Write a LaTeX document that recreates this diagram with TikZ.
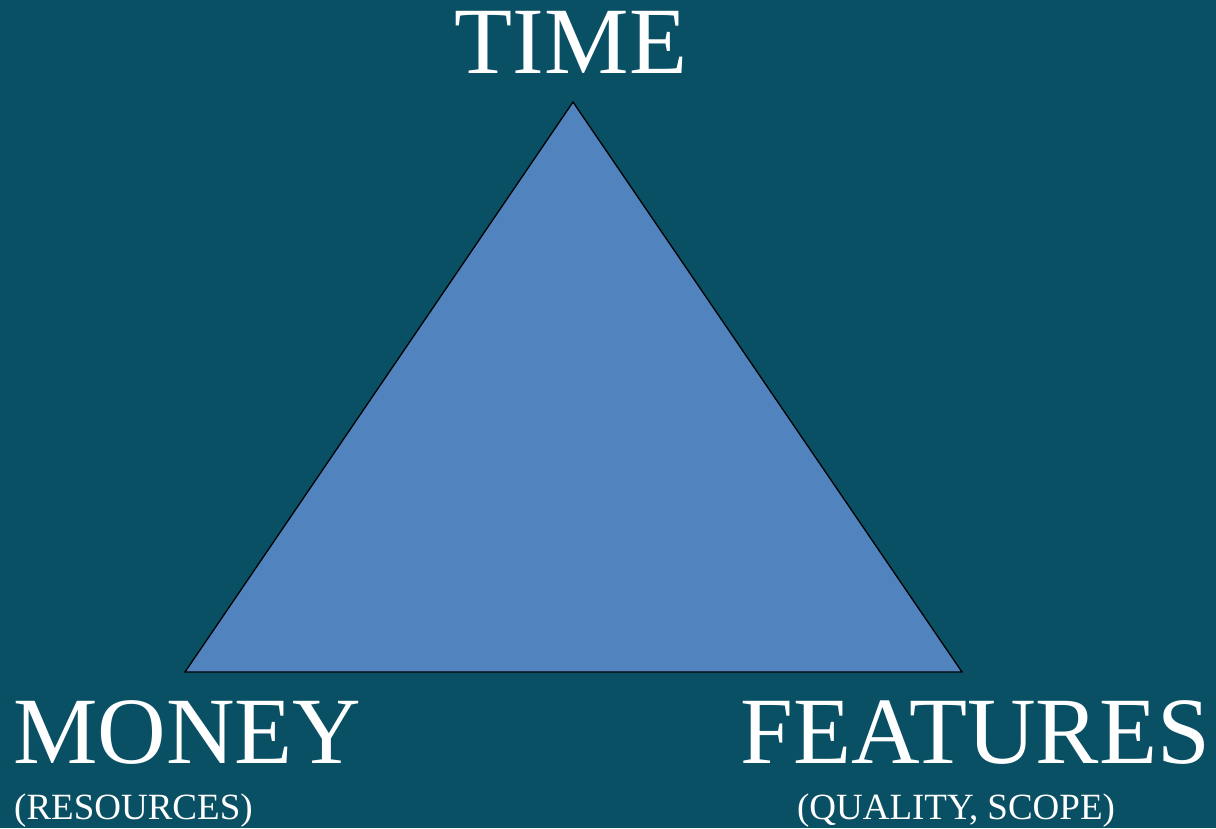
\documentclass[tikz,border=0pt]{standalone}
\usepackage{fontspec}
\setmainfont{Liberation Serif}
\definecolor{bgteal}{HTML}{0A5064}
\definecolor{triblue}{HTML}{5183BE}
\begin{document}
\begin{tikzpicture}[x=1pt,y=-1pt,
  big/.style={text=white,inner sep=0pt,font=\fontsize{95}{95}\selectfont},
  small/.style={text=white,inner sep=0pt,font=\fontsize{37}{37}\selectfont}]
\fill[bgteal] (0,0) rectangle (1216,828);
\useasboundingbox (0,0) rectangle (1216,828);
\coordinate (top) at (573,102);
\coordinate (bl) at (185,672);
\coordinate (br) at (962,672);
\draw[fill=triblue,draw=black,line width=1.3pt,line join=miter] (top) -- (bl) -- (br) -- cycle;
\node[big,anchor=base] (time) at (571,73) {TIME};
\node[big,anchor=base west] (money) at (13,763) {MONEY};
\node[big,anchor=base west] (features) at (740,763) {FEATURES};
\node[small,anchor=base west] (resources) at (14,819) {(RESOURCES)};
\node[small,anchor=base] (quality) at (956,819) {(QUALITY, SCOPE)};
\end{tikzpicture}
\end{document}
